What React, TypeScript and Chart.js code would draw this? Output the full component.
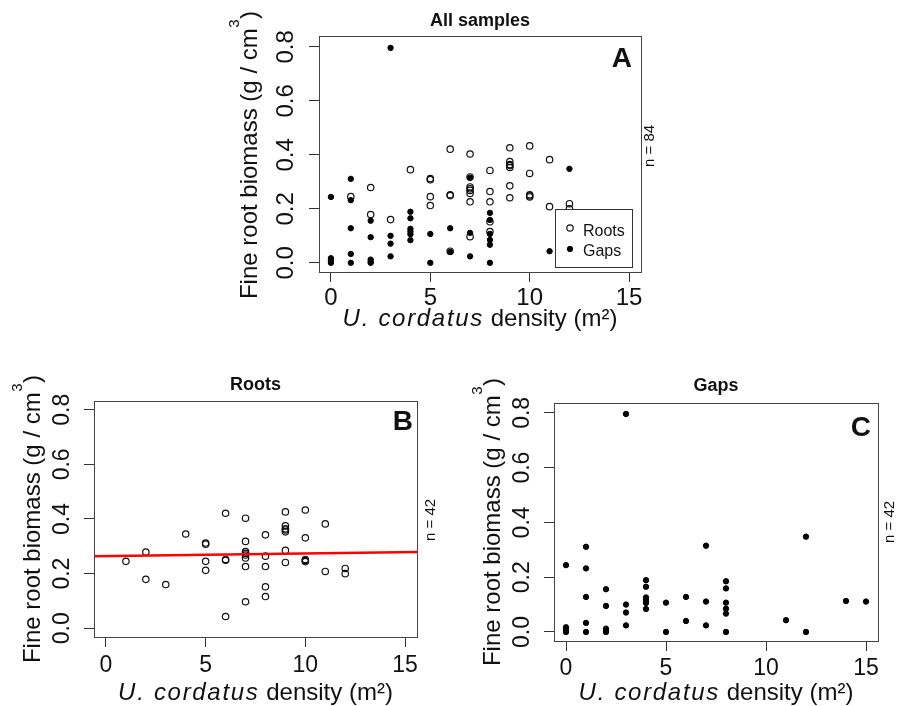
import React, { useEffect, useRef } from "react";
import { Chart, registerables } from "chart.js";

Chart.register(...registerables);

const FONT = '"Liberation Sans", Arial, Helvetica, sans-serif';

// ---------------- data ----------------
const xTicks = [0, 5, 10, 15];
const yTicks = [0, 0.2, 0.4, 0.6, 0.8];
const yTickLabels = ["0.0", "0.2", "0.4", "0.6", "0.8"];

const rootsDensity = [
  1, 2, 2, 3, 4, 5, 5, 5, 5, 6, 6, 6, 6, 7, 7, 7, 7, 7, 7, 7, 7, 8, 8, 8, 8, 8,
  9, 9, 9, 9, 9, 9, 9, 10, 10, 10, 10, 10, 11, 11, 12, 12,
];
const rootsBiomass = [
  0.245, 0.279, 0.179, 0.16, 0.345, 0.312, 0.308, 0.245, 0.212, 0.421, 0.252,
  0.249, 0.043, 0.403, 0.318, 0.281, 0.274, 0.268, 0.257, 0.226, 0.097, 0.342,
  0.264, 0.226, 0.152, 0.116, 0.426, 0.375, 0.364, 0.36, 0.353, 0.285, 0.241,
  0.433, 0.331, 0.252, 0.248, 0.244, 0.382, 0.208, 0.219, 0.2,
];

const gapsDensity = [
  0, 0, 0, 0, 1, 1, 1, 1, 1, 2, 2, 2, 2, 2, 3, 3, 3, 3, 4, 4, 4, 4, 4, 4, 5, 5,
  6, 6, 7, 7, 7, 8, 8, 8, 8, 8, 8, 11, 12, 12, 14, 15,
];
const gapsBiomass = [
  0.244, 0.017, 0.008, 0.0, 0.311, 0.232, 0.128, 0.033, 0.0, 0.156, 0.095,
  0.012, 0.004, 0.0, 0.796, 0.1, 0.071, 0.024, 0.189, 0.165, 0.126, 0.116,
  0.106, 0.084, 0.107, 0.0, 0.128, 0.04, 0.315, 0.111, 0.024, 0.185, 0.159,
  0.107, 0.085, 0.067, 0.0, 0.043, 0.348, 0.0, 0.113, 0.111,
];

// regression line of the roots panel (ends at the plot edges)
const fitDensity = [-0.6, 15.6];
const fitBiomass = [0.264, 0.279];

const legendLabels = ["Roots", "Gaps"];

// ---------------- styles ----------------
const rootsStyle = {
  pointRadius: 3.2,
  pointBorderWidth: 1.2,
  pointBorderColor: "#111",
  pointBackgroundColor: "rgba(0,0,0,0)",
  pointStyle: "circle",
  showLine: false,
};
const gapsStyle = {
  pointRadius: 2.7,
  pointBorderWidth: 1,
  pointBorderColor: "#000",
  pointBackgroundColor: "#000",
  pointStyle: "circle",
  showLine: false,
};

const toPoints = (xs: number[], ys: number[]) =>
  xs.map((x, i) => ({ x, y: ys[i] }));

type Panel = {
  key: string;
  cv: { x: number; y: number; w: number; h: number };
  box: { l: number; t: number; r: number; b: number };
  yMin: number;
  yMax: number;
  tickSize: number;
  yTickPad: number;
  xTickPad: number;
  title: string;
  titleBase: number;
  letter: string;
  letterRight: number;
  letterBase: number;
  nText: string;
  nBaseX: number;
  nCy: number;
  xTitleBase: number;
  yTitleBaseX: number;
  yTitleCy: number;
  legend: boolean;
  datasets: any[];
};

const panels: Panel[] = [
  {
    key: "A",
    cv: { x: 200, y: 0, w: 480, h: 345 },
    box: { l: 319, t: 36, r: 641, b: 272 },
    yMin: -0.034,
    yMax: 0.84,
    tickSize: 24,
    yTickPad: 6,
    xTickPad: 2,
    title: "All samples",
    titleBase: 26,
    letter: "A",
    letterRight: 632,
    letterBase: 67,
    nText: "n = 84",
    nBaseX: 654,
    nCy: 146,
    xTitleBase: 326,
    yTitleBaseX: 257,
    yTitleCy: 155,
    legend: true,
    datasets: [
      { label: legendLabels[1], data: toPoints(gapsDensity, gapsBiomass), order: 0, ...gapsStyle },
      { label: legendLabels[0], data: toPoints(rootsDensity, rootsBiomass), order: 1, ...rootsStyle },
    ],
  },
  {
    key: "B",
    cv: { x: 0, y: 360, w: 460, h: 346 },
    box: { l: 94, t: 401, r: 417, b: 637 },
    yMin: -0.032,
    yMax: 0.832,
    tickSize: 23,
    yTickPad: 5,
    xTickPad: 4.5,
    title: "Roots",
    titleBase: 390,
    letter: "B",
    letterRight: 413,
    letterBase: 430,
    nText: "n = 42",
    nBaseX: 435,
    nCy: 520,
    xTitleBase: 700,
    yTitleBaseX: 40,
    yTitleCy: 519,
    legend: false,
    datasets: [
      {
        label: "fit",
        data: toPoints(fitDensity, fitBiomass),
        showLine: true,
        borderColor: "#ff0000",
        borderWidth: 2.5,
        pointRadius: 0,
        order: 0,
      },
      { label: legendLabels[0], data: toPoints(rootsDensity, rootsBiomass), order: 1, ...rootsStyle },
    ],
  },
  {
    key: "C",
    cv: { x: 460, y: 360, w: 443, h: 346 },
    box: { l: 554, t: 403, r: 878, b: 641 },
    yMin: -0.033,
    yMax: 0.836,
    tickSize: 23,
    yTickPad: 5,
    xTickPad: 4,
    title: "Gaps",
    titleBase: 391,
    letter: "C",
    letterRight: 871,
    letterBase: 436,
    nText: "n = 42",
    nBaseX: 894,
    nCy: 522,
    xTitleBase: 700,
    yTitleBaseX: 500,
    yTitleCy: 522,
    legend: false,
    datasets: [
      { label: legendLabels[1], data: toPoints(gapsDensity, gapsBiomass), order: 0, ...gapsStyle },
    ],
  },
];

const TEXT = "#111";

function drawYTitle(ctx: CanvasRenderingContext2D, bx: number, cy: number) {
  const size = 24;
  const main = "Fine root biomass (g / cm";
  const sup = "3";
  const close = ")";
  ctx.save();
  ctx.translate(bx, cy);
  ctx.rotate(-Math.PI / 2);
  ctx.fillStyle = TEXT;
  ctx.textAlign = "left";
  ctx.textBaseline = "alphabetic";
  ctx.font = `${size}px ${FONT}`;
  const wMain = ctx.measureText(main).width;
  const wClose = ctx.measureText(close).width;
  ctx.font = `${Math.round(size * 0.62)}px ${FONT}`;
  const wSup = ctx.measureText(sup).width;
  let x = -(wMain + wSup + wClose + 1) / 2;
  ctx.font = `${size}px ${FONT}`;
  ctx.fillText(main, x, 0);
  x += wMain + 0.5;
  ctx.font = `${Math.round(size * 0.62)}px ${FONT}`;
  ctx.fillText(sup, x, -18);
  x += wSup + 0.5;
  ctx.font = `${size}px ${FONT}`;
  ctx.fillText(close, x, 0);
  ctx.restore();
}

function drawXTitle(ctx: CanvasRenderingContext2D, cx: number, base: number) {
  const size = 24;
  const ital = "U. cordatus";
  const rest = " density (m²)";
  ctx.save();
  ctx.fillStyle = TEXT;
  ctx.textAlign = "left";
  ctx.textBaseline = "alphabetic";
  const anyCtx = ctx as any;
  const canSpace = "letterSpacing" in anyCtx;
  ctx.font = `italic ${size}px ${FONT}`;
  if (canSpace) anyCtx.letterSpacing = "1.7px";
  const wItal = ctx.measureText(ital).width;
  if (canSpace) anyCtx.letterSpacing = "0px";
  ctx.font = `${size}px ${FONT}`;
  const wRest = ctx.measureText(rest).width;
  let x = cx - (wItal + wRest) / 2;
  ctx.font = `italic ${size}px ${FONT}`;
  if (canSpace) anyCtx.letterSpacing = "1.7px";
  ctx.fillText(ital, x, base);
  if (canSpace) anyCtx.letterSpacing = "0px";
  x += wItal;
  ctx.font = `${size}px ${FONT}`;
  ctx.fillText(rest, x, base);
  ctx.restore();
}

function decoPlugin(p: Panel) {
  const ox = p.cv.x;
  const oy = p.cv.y;
  return {
    id: "deco" + p.key,
    afterDraw(chart: any) {
      const ctx: CanvasRenderingContext2D = chart.ctx;
      const { left, top, right, bottom } = chart.chartArea;
      const cx = (left + right) / 2;
      ctx.save();
      // legend (panel A)
      if (p.legend) {
        const lx = right - 86;
        const ly = bottom - 63;
        const lw = 77;
        const lh = 58;
        ctx.fillStyle = "#fff";
        ctx.fillRect(lx, ly, lw, lh);
        ctx.strokeStyle = "#333";
        ctx.lineWidth = 1;
        ctx.strokeRect(lx + 0.5, ly + 0.5, lw, lh);
        const rows = [
          { label: legendLabels[0], style: rootsStyle, my: 19, ty: 27 },
          { label: legendLabels[1], style: gapsStyle, my: 40, ty: 47 },
        ];
        rows.forEach((row) => {
          ctx.beginPath();
          ctx.arc(lx + 15, ly + row.my, row.style.pointRadius, 0, Math.PI * 2);
          ctx.fillStyle = row.style.pointBackgroundColor;
          ctx.fill();
          ctx.lineWidth = row.style.pointBorderWidth;
          ctx.strokeStyle = row.style.pointBorderColor;
          ctx.stroke();
          ctx.fillStyle = TEXT;
          ctx.font = `16px ${FONT}`;
          ctx.textAlign = "left";
          ctx.textBaseline = "alphabetic";
          ctx.fillText(row.label, lx + 28, ly + row.ty);
        });
      }
      // plot frame
      ctx.strokeStyle = "#444";
      ctx.lineWidth = 1;
      ctx.strokeRect(left + 0.5, top + 0.5, right - left, bottom - top);
      // main title
      ctx.fillStyle = TEXT;
      ctx.font = `bold 18px ${FONT}`;
      ctx.textAlign = "center";
      ctx.textBaseline = "alphabetic";
      ctx.fillText(p.title, cx, p.titleBase - oy);
      // panel letter
      ctx.font = `bold 28px ${FONT}`;
      ctx.textAlign = "right";
      ctx.fillText(p.letter, p.letterRight - ox, p.letterBase - oy);
      // n label
      ctx.save();
      ctx.translate(p.nBaseX - ox, p.nCy - oy);
      ctx.rotate(-Math.PI / 2);
      ctx.font = `15px ${FONT}`;
      ctx.textAlign = "center";
      ctx.fillText(p.nText, 0, 0);
      ctx.restore();
      ctx.restore();
      drawXTitle(ctx, cx, p.xTitleBase - oy);
      drawYTitle(ctx, p.yTitleBaseX - ox, p.yTitleCy - oy);
    },
  };
}

function buildConfig(p: Panel): any {
  const { cv, box } = p;
  return {
    type: "scatter",
    data: { datasets: p.datasets },
    options: {
      animation: false,
      responsive: false,
      events: [],
      layout: {
        padding: {
          left: 0,
          top: box.t - cv.y,
          right: cv.x + cv.w - box.r,
          bottom: 0,
        },
      },
      plugins: {
        legend: { display: false },
        tooltip: { enabled: false },
        title: { display: false },
      },
      scales: {
        x: {
          type: "linear",
          position: "bottom",
          min: -0.6,
          max: 15.6,
          afterBuildTicks: (s: any) => {
            s.ticks = xTicks.map((v) => ({ value: v }));
          },
          afterFit: (s: any) => {
            s.height = cv.y + cv.h - box.b;
          },
          border: { display: false },
          grid: {
            display: true,
            drawOnChartArea: false,
            drawTicks: true,
            tickLength: 10,
            color: "#333",
            lineWidth: 1,
          },
          ticks: {
            autoSkip: false,
            maxRotation: 0,
            minRotation: 0,
            padding: p.xTickPad,
            color: TEXT,
            font: { family: FONT, size: p.tickSize },
            callback: (v: number) => String(v),
          },
        },
        y: {
          type: "linear",
          position: "left",
          min: p.yMin,
          max: p.yMax,
          afterBuildTicks: (s: any) => {
            s.ticks = yTicks.map((v) => ({ value: v }));
          },
          afterFit: (s: any) => {
            s.width = box.l - cv.x;
          },
          border: { display: false },
          grid: {
            display: true,
            drawOnChartArea: false,
            drawTicks: true,
            tickLength: 10,
            color: "#333",
            lineWidth: 1,
          },
          ticks: {
            autoSkip: false,
            minRotation: 90,
            maxRotation: 90,
            crossAlign: "center",
            padding: p.yTickPad,
            color: TEXT,
            font: { family: FONT, size: p.tickSize },
            callback: (_v: number, i: number) => yTickLabels[i],
          },
        },
      },
    },
    plugins: [decoPlugin(p)],
  };
}

function PanelChart({ panel }: { panel: Panel }) {
  const ref = useRef<HTMLCanvasElement>(null);
  useEffect(() => {
    if (!ref.current) return;
    const chart = new Chart(ref.current, buildConfig(panel));
    return () => chart.destroy();
  }, [panel]);
  return (
    <canvas
      ref={ref}
      width={panel.cv.w}
      height={panel.cv.h}
      style={{
        position: "absolute",
        left: panel.cv.x,
        top: panel.cv.y,
        width: panel.cv.w,
        height: panel.cv.h,
      }}
    />
  );
}

export default function App() {
  return (
    <div
      style={{
        position: "absolute",
        left: 0,
        top: 0,
        width: 903,
        height: 706,
        background: "#fff",
        overflow: "hidden",
      }}
    >
      {panels.map((p) => (
        <PanelChart key={p.key} panel={p} />
      ))}
    </div>
  );
}
